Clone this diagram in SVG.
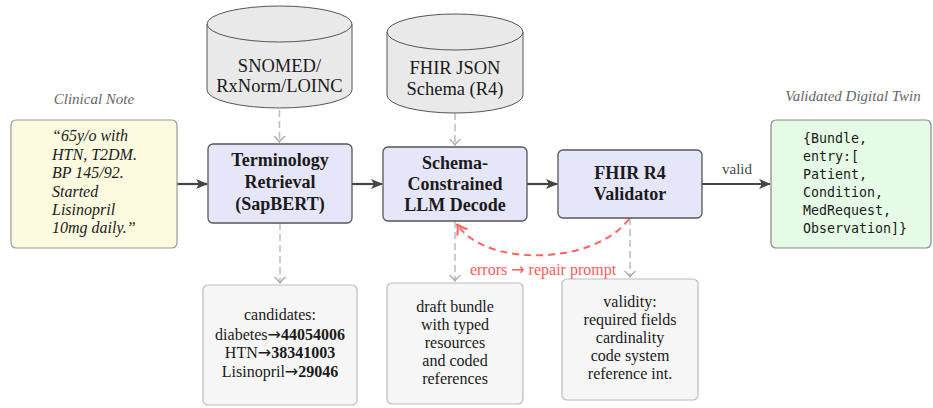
<svg xmlns="http://www.w3.org/2000/svg" width="933" height="408" viewBox="0 0 933 408" font-family="'Liberation Serif','Times New Roman',Tinos,'DejaVu Serif','Noto Serif',serif">
<style>
text{font-family:"Liberation Serif","Times New Roman",Tinos,"DejaVu Serif","Noto Serif",serif;fill:#1a1a1a}
.cap{font-style:italic;font-size:15px;fill:#666;text-anchor:middle}
.note{font-style:italic;font-size:16px}
.proc{fill:#e6e6fa;stroke:#555;stroke-width:1.3}
.pt{font-weight:bold;font-size:18px;text-anchor:middle}
.cyl{fill:#e9e9e9;stroke:#555;stroke-width:1}
.ct{font-size:18.5px;text-anchor:middle}
.out{fill:#e6fbe6;stroke:#888;stroke-width:1.2}
text.mono{font-family:"DejaVu Sans Mono","Liberation Mono",monospace;font-size:13.3px}
.sub{fill:#f6f6f6;stroke:#bbb;stroke-width:1.2}
.st{font-size:16px;text-anchor:middle}
tspan.arr{font-family:"DejaVu Sans",sans-serif}
.main{stroke:#444;stroke-width:2.2;fill:none;marker-end:url(#ah)}
.dash{stroke:#bbb;stroke-width:1.5;stroke-dasharray:7 4;fill:none;marker-end:url(#ag)}
.red{stroke:#ff6060;stroke-width:2;stroke-dasharray:7 5;fill:none;marker-end:url(#ar)}
</style>
<defs>
<marker id="ah" viewBox="0 0 12 10" refX="11" refY="5" markerWidth="12" markerHeight="10" markerUnits="userSpaceOnUse" orient="auto">
<path d="M0,0 L12,5 L0,10 L3,5 Z" fill="#444"/>
</marker>
<marker id="ag" viewBox="0 0 12 12" refX="6" refY="6" markerWidth="12" markerHeight="12" markerUnits="userSpaceOnUse" orient="auto">
<path d="M0,0.5 Q4,5 6,6 Q4,7 0,11.5" fill="none" stroke="#aaa" stroke-width="1.4"/>
</marker>
<marker id="ar" viewBox="0 0 14 14" refX="12" refY="7" markerWidth="14" markerHeight="14" markerUnits="userSpaceOnUse" orient="auto">
<path d="M2,1 Q8,6 12,7 Q8,8 2,13" fill="none" stroke="#ff6060" stroke-width="2"/>
</marker>
</defs>

<g id="connectors">
<line class="main" x1="177" y1="184" x2="207" y2="184"/>
<line class="main" x1="352" y1="184" x2="382" y2="184"/>
<line class="main" x1="527" y1="184" x2="557" y2="184"/>
<line class="main" x1="702" y1="184" x2="770" y2="184"/>
<text x="737" y="174" style="font-size:15px;fill:#444;text-anchor:middle">valid</text>
<line class="dash" x1="279.5" y1="110" x2="279.5" y2="142"/>
<line class="dash" x1="455" y1="113" x2="455" y2="145"/>
<line class="dash" x1="280" y1="223" x2="280" y2="283"/>
<line class="dash" x1="455" y1="221" x2="455" y2="281"/>
<line class="dash" x1="630" y1="218" x2="630" y2="277"/>
<path class="red" d="M629,219 C595,265 485,268 457,224"/>
<text x="543" y="275" style="font-size:16px;fill:#ff5c5c;text-anchor:middle">errors <tspan class="arr">→</tspan> repair prompt</text>
</g>

<g id="clinical-note">
<text class="cap" x="94" y="104">Clinical Note</text>
<rect x="11" y="120" width="166" height="128" rx="5" fill="#fdfbdf" stroke="#999" stroke-width="1.2"/>
<text class="note" x="52" y="141">“65y/o with</text>
<text class="note" x="52" y="160">HTN, T2DM.</text>
<text class="note" x="52" y="178">BP 145/92.</text>
<text class="note" x="52" y="197">Started</text>
<text class="note" x="52" y="215">Lisinopril</text>
<text class="note" x="52" y="233">10mg daily.”</text>
</g>

<g id="terminology-db">
<path class="cyl" d="M207,24 L207,90 A72.5,18 0 0 0 352,90 L352,24 A72.5,18 0 0 0 207,24 Z"/>
<path class="cyl" d="M207,24 A72.5,18 0 0 0 352,24" fill="none"/>
<text class="ct" x="279.5" y="72">SNOMED/</text>
<text class="ct" x="279.5" y="92">RxNorm/LOINC</text>
</g>

<g id="schema-db">
<path class="cyl" d="M387,32 L387,95 A68,18 0 0 0 523,95 L523,32 A68,18 0 0 0 387,32 Z"/>
<path class="cyl" d="M387,32 A68,18 0 0 0 523,32" fill="none"/>
<text class="ct" x="455" y="74">FHIR JSON</text>
<text class="ct" x="455" y="95">Schema (R4)</text>
</g>

<g id="terminology-retrieval">
<rect class="proc" x="208" y="144" width="144" height="79" rx="5"/>
<text class="pt" x="280" y="166">Terminology</text>
<text class="pt" x="280" y="188">Retrieval</text>
<text class="pt" x="280" y="210">(SapBERT)</text>
</g>

<g id="llm-decode">
<rect class="proc" x="383" y="147" width="144" height="74" rx="5"/>
<text class="pt" x="455" y="169">Schema-</text>
<text class="pt" x="455" y="190">Constrained</text>
<text class="pt" x="455" y="211">LLM Decode</text>
</g>

<g id="validator">
<rect class="proc" x="558" y="150" width="144" height="68" rx="5"/>
<text class="pt" x="630" y="179">FHIR R4</text>
<text class="pt" x="630" y="200">Validator</text>
</g>

<g id="digital-twin">
<text class="cap" x="853" y="101">Validated Digital Twin</text>
<rect class="out" x="771" y="120" width="160" height="128" rx="5"/>
<text class="mono" x="803" y="143">{Bundle,</text>
<text class="mono" x="803" y="161">entry:[</text>
<text class="mono" x="803" y="179">Patient,</text>
<text class="mono" x="803" y="197">Condition,</text>
<text class="mono" x="803" y="215">MedRequest,</text>
<text class="mono" x="803" y="233">Observation]}</text>
</g>

<g id="candidates">
<rect class="sub" x="203" y="285" width="154" height="120" rx="5"/>
<text class="st" x="280" y="320">candidates:</text>
<text class="st" x="280" y="340">diabetes<tspan class="arr">→</tspan><tspan font-weight="bold">44054006</tspan></text>
<text class="st" x="280" y="358">HTN<tspan class="arr">→</tspan><tspan font-weight="bold">38341003</tspan></text>
<text class="st" x="280" y="377">Lisinopril<tspan class="arr">→</tspan><tspan font-weight="bold">29046</tspan></text>
</g>

<g id="draft-bundle">
<rect class="sub" x="387" y="283" width="136" height="121" rx="5"/>
<text class="st" x="455" y="312">draft bundle</text>
<text class="st" x="455" y="330">with typed</text>
<text class="st" x="455" y="348">resources</text>
<text class="st" x="455" y="366">and coded</text>
<text class="st" x="455" y="384">references</text>
</g>

<g id="validity">
<rect class="sub" x="562" y="279" width="136" height="121" rx="5"/>
<text class="st" x="630" y="307">validity:</text>
<text class="st" x="630" y="325">required fields</text>
<text class="st" x="630" y="343">cardinality</text>
<text class="st" x="630" y="361">code system</text>
<text class="st" x="630" y="379">reference int.</text>
</g>
</svg>
